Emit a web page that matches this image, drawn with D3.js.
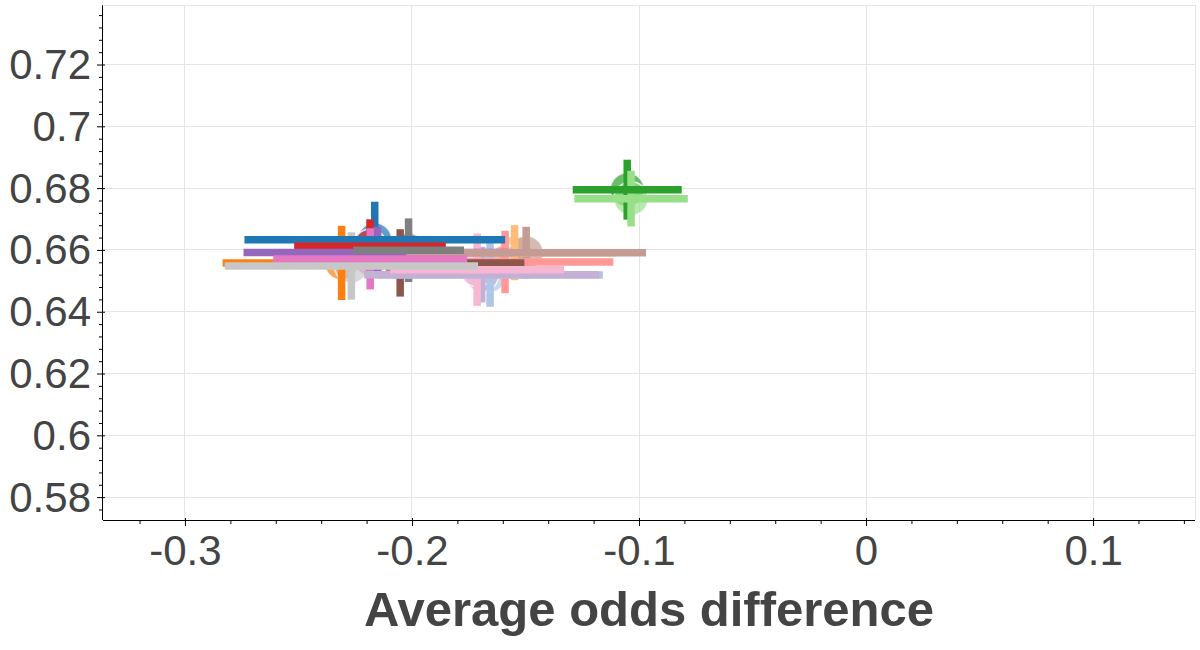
<!DOCTYPE html>
<html>
<head>
<meta charset="utf-8">
<script src="https://cdn.jsdelivr.net/npm/d3@7"></script>
<style>
  html, body { margin: 0; padding: 0; background: #fff; }
  svg { display: block; }
  text { font-family: "Liberation Sans", Arial, Helvetica, sans-serif; fill: #444444; }
</style>
</head>
<body>
<svg id="chart" width="1200" height="650"></svg>
<script>
// ---- data ----
const seriesColors = ["#1f77b4","#aec7e8","#ff7f0e","#ffbb78","#2ca02c","#98df8a","#d62728","#ff9896",
                      "#9467bd","#c5b0d5","#8c564b","#c49c94","#e377c2","#f7b6d2","#7f7f7f","#c7c7c7"];
const xValues = [-0.2164,-0.1656,-0.2310,-0.1548,-0.1052,-0.1035,-0.2185,-0.1590,
                 -0.2152,-0.1693,-0.2052,-0.1497,-0.2184,-0.1713,-0.2015,-0.2267];
const yValues = [0.6633,0.6519,0.6558,0.6591,0.6795,0.6766,0.6612,0.6561,
                 0.6592,0.6520,0.6558,0.6591,0.6571,0.6536,0.6599,0.6548];
const xErrors = [0.0574,0.0497,0.0524,0.0450,0.0240,0.0250,0.0334,0.0477,
                 0.0590,0.0518,0.0547,0.0528,0.0427,0.0383,0.0244,0.0558];
const yErrors = [0.0123,0.0103,0.0120,0.0089,0.0097,0.0090,0.0087,0.0101,
                 0.0083,0.0090,0.0109,0.0084,0.0099,0.0117,0.0103,0.0109];
const xMajorTicks = [-0.3,-0.2,-0.1,0,0.1];
const xTickLabels = ["-0.3","-0.2","-0.1","0","0.1"];
const yMajorTicks = [0.58,0.60,0.62,0.64,0.66,0.68,0.70,0.72];
const yTickLabels = ["0.58","0.6","0.62","0.64","0.66","0.68","0.7","0.72"];
const xLabel = "Average odds difference";

const points = seriesColors.map((c,i) => ({color:c, x:xValues[i], y:yValues[i], xe:xErrors[i], ye:yErrors[i]}));

// ---- layout ----
const L = 103, R = 1195, T = 5.5, B = 520;
const svg = d3.select("#chart");
const x = d3.scaleLinear().domain([-0.3361, 0.1449]).range([L, R]);
const y = d3.scaleLinear().domain([0.5726, 0.7391]).range([B, T]);

// grid
const grid = svg.append("g");
grid.selectAll("line.gx").data(xMajorTicks).join("line")
  .attr("x1", d => x(d)).attr("x2", d => x(d)).attr("y1", T).attr("y2", B)
  .attr("stroke", "#e5e5e5").attr("stroke-width", 1).attr("shape-rendering","crispEdges");
grid.selectAll("line.gy").data(yMajorTicks).join("line")
  .attr("y1", d => y(d)).attr("y2", d => y(d)).attr("x1", L).attr("x2", R)
  .attr("stroke", "#e5e5e5").attr("stroke-width", 1).attr("shape-rendering","crispEdges");
// outline (top/right)
svg.append("path").attr("d", `M${L},${T}H${R}V${B}`).attr("fill","none")
  .attr("stroke","#e5e5e5").attr("stroke-width",1).attr("shape-rendering","crispEdges");

// marks: circles, then vertical bars, then horizontal bars
const marks = svg.append("g");
marks.selectAll("circle").data(points).join("circle")
  .attr("cx", d => x(d.x)).attr("cy", d => y(d.y)).attr("r", 17)
  .attr("fill", d => d.color).attr("fill-opacity", 0.7)
  .attr("stroke", "#fff").attr("stroke-opacity", 0.8).attr("stroke-width", 1.5);
marks.selectAll("line.v").data(points).join("line").attr("class","v")
  .attr("x1", d => x(d.x)).attr("x2", d => x(d.x))
  .attr("y1", d => y(d.y - d.ye)).attr("y2", d => y(d.y + d.ye))
  .attr("stroke", d => d.color).attr("stroke-width", 7.5);
marks.selectAll("line.h").data(points).join("line").attr("class","h")
  .attr("y1", d => y(d.y)).attr("y2", d => y(d.y))
  .attr("x1", d => x(d.x - d.xe)).attr("x2", d => x(d.x + d.xe))
  .attr("stroke", d => d.color).attr("stroke-width", 7.5);

// axes
const fmtX = d => xTickLabels[xMajorTicks.findIndex(t => Math.abs(t-d) < 1e-9)];
const fmtY = d => yTickLabels[yMajorTicks.findIndex(t => Math.abs(t-d) < 1e-9)];

const xMinor = d3.range(-0.32, 0.1401, 0.02).filter(v => !xMajorTicks.some(t => Math.abs(t-v) < 1e-9));
const yMinor = d3.range(0.576, 0.7381, 0.004).filter(v => !yMajorTicks.some(t => Math.abs(t-v) < 1e-9));

const gx = svg.append("g").attr("transform", `translate(0,${B})`);
gx.call(d3.axisBottom(x).tickValues(xMinor).tickSize(4).tickFormat(""));
gx.append("g").call(d3.axisBottom(x).tickValues(xMajorTicks).tickSizeInner(6).tickSizeOuter(0).tickPadding(16).tickFormat(fmtX));
gx.selectAll("path.domain").attr("d", `M${L},0.5H${R}`).attr("stroke","#000");
gx.selectAll(".tick line").attr("stroke","#000");
gx.selectAll("g > g > .tick line").attr("y1", -2);
gx.selectAll("text").style("font-size","42px").attr("fill","#444444")
  .attr("dy", null).attr("y", 45).style("font-family","'Liberation Sans', Arial, sans-serif");

const gy = svg.append("g").attr("transform", `translate(${L},0)`);
gy.call(d3.axisLeft(y).tickValues(yMinor).tickSize(4).tickFormat(""));
gy.append("g").call(d3.axisLeft(y).tickValues(yMajorTicks).tickSizeInner(6).tickSizeOuter(0).tickPadding(6).tickFormat(fmtY));
gy.selectAll("path.domain").attr("d", `M-0.5,${T}V${B}`).attr("stroke","#000");
gy.selectAll(".tick line").attr("stroke","#000");
gy.selectAll("g > g > .tick line").attr("x1", 2);
gy.selectAll("text").style("font-size","42px").attr("fill","#444444")
  .attr("dy", null).attr("y", 14).attr("x", -12).style("font-family","'Liberation Sans', Arial, sans-serif");

// axis label
svg.append("text").attr("x", (L+R)/2).attr("y", 626).attr("text-anchor","middle")
  .style("font-size","49px").style("font-weight","bold").text(xLabel);
</script>
</body>
</html>
